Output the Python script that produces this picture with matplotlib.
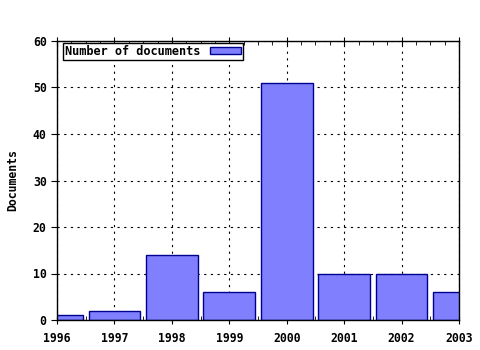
import matplotlib
matplotlib.use("Agg")
import matplotlib.pyplot as plt
from matplotlib.ticker import MultipleLocator

# data
years = [1996, 1997, 1998, 1999, 2000, 2001, 2002, 2003]
docs = [1, 2, 14, 6, 51, 10, 10, 6]

plt.rcParams['font.family'] = ['DejaVu Sans Mono']
plt.rcParams['font.weight'] = 'bold'

fig = plt.figure(figsize=(4.8, 3.5), dpi=100)
ax = fig.add_axes([57/480, 30/350, 402/480, 279/350])

ax.bar(years, docs, width=0.9, color='#8080ff', edgecolor='#000090',
       linewidth=1, label='Number of documents', zorder=2)

ax.set_xlim(1996, 2003)
ax.set_ylim(0, 60)
ax.set_xticks(years)
ax.xaxis.set_minor_locator(MultipleLocator(0.25))
ax.set_yticks(range(0, 61, 10))
ax.grid(True, which='major', color='black', linestyle=(0, (2, 4)), linewidth=0.8, zorder=1)
ax.set_axisbelow(True)

ax.tick_params(axis='x', which='major', direction='inout', length=6, top=True,
               labelsize=8.3, pad=6)
ax.tick_params(axis='x', which='minor', direction='in', length=3, top=True)
ax.tick_params(axis='y', which='major', direction='out', length=4, labelsize=8.3)
for s in ax.spines.values():
    s.set_linewidth(1)

ax.set_ylabel('Documents', fontsize=8.3, fontweight='bold', labelpad=10)

leg = ax.legend(loc='upper left', fontsize=8.6, frameon=True, fancybox=False,
                edgecolor='black', framealpha=1, borderpad=0.15, handlelength=2.6,
                handleheight=0.6, markerfirst=False, borderaxespad=0.0,
                bbox_to_anchor=(6/402, 1 - 2/279))
leg.get_frame().set_linewidth(1)

fig.savefig('out.png', dpi=100)
